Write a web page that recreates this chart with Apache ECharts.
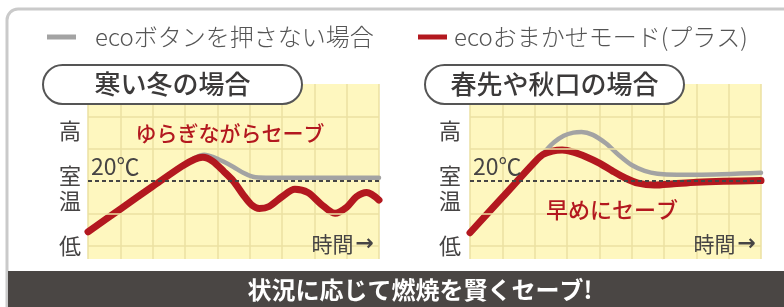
<!DOCTYPE html>
<html><head><meta charset="utf-8">
<script src="https://cdn.jsdelivr.net/npm/echarts@6/dist/echarts.min.js"></script>
<style>html,body{margin:0;padding:0;background:#fff;}#c{width:784px;height:307px;}</style>
</head><body><div id="c"></div>
<script>
// ---- data ----
const seriesNames = ['ecoボタンを押さない場合', 'ecoおまかせモード(プラス)'];
const panelTitles = ['寒い冬の場合', '春先や秋口の場合'];
const panelNotes = ['ゆらぎながらセーブ', '早めにセーブ'];
const yLabels = ['高', '室\n温', '低'];
const roomTempLabel = '20℃';
const timeLabel = '時間';
const footerText = '状況に応じて燃焼を賢くセーブ!';

const winterGrayX = [0, 1, 2, 2.9, 3.3, 3.6, 3.9, 4.2, 4.5, 4.8, 5.1, 5.5, 9];
const winterGrayY = [0.84, 1.54, 2.24, 2.86, 3.12, 3.22, 3.14, 3.0, 2.84, 2.66, 2.54, 2.51, 2.51];
const winterRedX = [0, 1, 2, 2.9, 3.3, 3.55, 3.85, 4.2, 4.5, 4.8, 5.05, 5.3, 5.6, 6.0, 6.4, 6.8, 7.2, 7.64, 8.0, 8.3, 8.62, 9];
const winterRedY = [0.84, 1.54, 2.24, 2.86, 3.08, 3.14, 3.02, 2.7, 2.4, 1.98, 1.68, 1.56, 1.62, 1.92, 2.15, 2.05, 1.7, 1.41, 1.6, 1.92, 2.05, 1.82];

const springGrayX = [0, 1, 2, 2.3, 2.6, 2.9, 3.2, 3.45, 3.8, 4.2, 4.6, 5.0, 5.4, 5.8, 6.4, 7, 9];
const springGrayY = [0.81, 1.9, 2.99, 3.3, 3.6, 3.8, 3.9, 3.92, 3.83, 3.57, 3.21, 2.9, 2.72, 2.63, 2.6, 2.6, 2.66];
const springRedX = [0, 1, 2, 2.25, 2.55, 2.85, 3.2, 3.6, 4.0, 4.4, 4.8, 5.2, 5.7, 6.3, 7, 9];
const springRedY = [0.81, 1.9, 2.99, 3.22, 3.33, 3.36, 3.3, 3.15, 2.96, 2.72, 2.5, 2.34, 2.28, 2.32, 2.37, 2.42];

const gridLineLevels = [0.4, 1.4, 3.4, 4.4];
const roomTempLevel = 2.4;

// ---- helpers ----
const pair = (xs, ys) => xs.map((x, i) => [x, ys[i]]);
const FONT = '"Noto Sans CJK JP", "Noto Sans", sans-serif';
const GRAY = '#a3a3a3', RED = '#b3181f', TXT = '#464444', YEL = '#fef7bf', GL = '#ebe1a2';

const grids = [
  {left: 88, top: 84, width: 291, height: 175},
  {left: 470, top: 84, width: 291, height: 175}
];
const xAxes = grids.map((g, i) => ({
  type: 'value', gridIndex: i, min: 0, max: 9, interval: 1,
  axisLine: {show: false}, axisTick: {show: false}, axisLabel: {show: false},
  splitLine: {show: true, lineStyle: {color: GL, width: 1.5}}
}));
const yAxes = grids.map((g, i) => ({
  type: 'value', gridIndex: i, min: 0, max: 5.4,
  axisLine: {show: false}, axisTick: {show: false}, axisLabel: {show: false},
  splitLine: {show: false}
}));

function gridSeries(i) {
  return {
    type: 'line', xAxisIndex: i, yAxisIndex: i, data: [], silent: true, z: 1,
    markLine: {
      symbol: 'none', silent: true, animation: false, label: {show: false},
      data: gridLineLevels.map(v => ({yAxis: v, lineStyle: {color: GL, width: 1.5, type: 'solid'}}))
        .concat([{yAxis: roomTempLevel, lineStyle: {color: '#454545', width: 2, type: [4, 3]}}])
    }
  };
}
function curve(name, i, xs, ys, color, w, z) {
  return {
    name, type: 'line', xAxisIndex: i, yAxisIndex: i, data: pair(xs, ys),
    smooth: 0.3, showSymbol: false, symbol: 'none', z,
    lineStyle: {color, width: w, cap: 'round', join: 'round'}, itemStyle: {color}, animation: false
  };
}

const series = [
  gridSeries(0), gridSeries(1),
  curve(seriesNames[0], 0, winterGrayX, winterGrayY, GRAY, 4.5, 3),
  curve(seriesNames[1], 0, winterRedX, winterRedY, RED, 7, 4),
  curve(seriesNames[0], 1, springGrayX, springGrayY, GRAY, 4.5, 3),
  curve(seriesNames[1], 1, springRedX, springRedY, RED, 7, 4)
];

function txt(x, y, text, size, color, weight, align) {
  return {type: 'text', x, y, z: 20, style: {text, font: `${weight||'normal'} ${size}px ${FONT}`, fill: color,
    textAlign: align || 'center', textVerticalAlign: 'middle', lineHeight: 25}};
}
function pill(x, y, w, h, text) {
  return [
    {type: 'rect', shape: {x, y, width: w, height: h, r: h / 2}, z: 15,
      style: {fill: '#fff', stroke: '#555', lineWidth: 2}},
    txt(x + w / 2, y + h / 2, text, 26, '#3c3a3a', 500)
  ];
}
function timeText(x) {
  return {type: 'text', x, y: 244, z: 20, style: {text: `{a|${timeLabel}}{b|→}`, textAlign: 'right', textVerticalAlign: 'middle',
    rich: {a: {font: `normal 21px ${FONT}`, fill: TXT},
           b: {font: `bold 22px "DejaVu Sans", sans-serif`, fill: TXT, padding: [0, 0, 0, 2]}}}};
}

const graphic = [
  {type: 'rect', shape: {x: 7, y: 9, width: 820, height: 330, r: 11}, z: 0,
    style: {fill: 'none', stroke: '#cacaca', lineWidth: 3}},
  {type: 'rect', shape: {x: 8, y: 271, width: 800, height: 40}, z: 1, style: {fill: '#4a4644'}},
  txt(420, 290, footerText, 24, '#fff', 'bold'),
  ...pill(43, 65, 259, 39, panelTitles[0]),
  ...pill(425, 65, 259, 39, panelTitles[1]),
  txt(70, 131, yLabels[0], 22, TXT), txt(70, 188, yLabels[1], 22, TXT), txt(70, 246, yLabels[2], 22, TXT),
  txt(450, 131, yLabels[0], 22, TXT), txt(450, 188, yLabels[1], 22, TXT), txt(450, 246, yLabels[2], 22, TXT),
  txt(91, 166, roomTempLabel, 23, TXT, 'normal', 'left'),
  txt(473, 166, roomTempLabel, 23, TXT, 'normal', 'left'),
  txt(230, 133, panelNotes[0], 21, RED, 500),
  txt(612, 210, panelNotes[1], 22, RED, 500),
  timeText(374), timeText(756)
];

const legendBase = {icon: 'rect', itemWidth: 29, itemHeight: 5, selectedMode: false,
  textStyle: {fontSize: 24, fontFamily: FONT, color: '#555', fontWeight: 300}};

const chart = echarts.init(document.getElementById('c'), null, {renderer: 'canvas'});
chart.setOption({
  backgroundColor: '#fff',
  animation: false,
  grid: grids.map(g => Object.assign({show: true, backgroundColor: YEL, borderWidth: 0}, g)),
  xAxis: xAxes, yAxis: yAxes,
  legend: [
    Object.assign({}, legendBase, {left: 42, top: 20, data: [seriesNames[0]],
      textStyle: Object.assign({}, legendBase.textStyle, {padding: [0, 0, 0, 14]})}),
    Object.assign({}, legendBase, {left: 413, top: 20, data: [seriesNames[1]],
      textStyle: Object.assign({}, legendBase.textStyle, {padding: [0, 0, 0, 2]})})
  ],
  series, graphic
});
</script></body></html>
